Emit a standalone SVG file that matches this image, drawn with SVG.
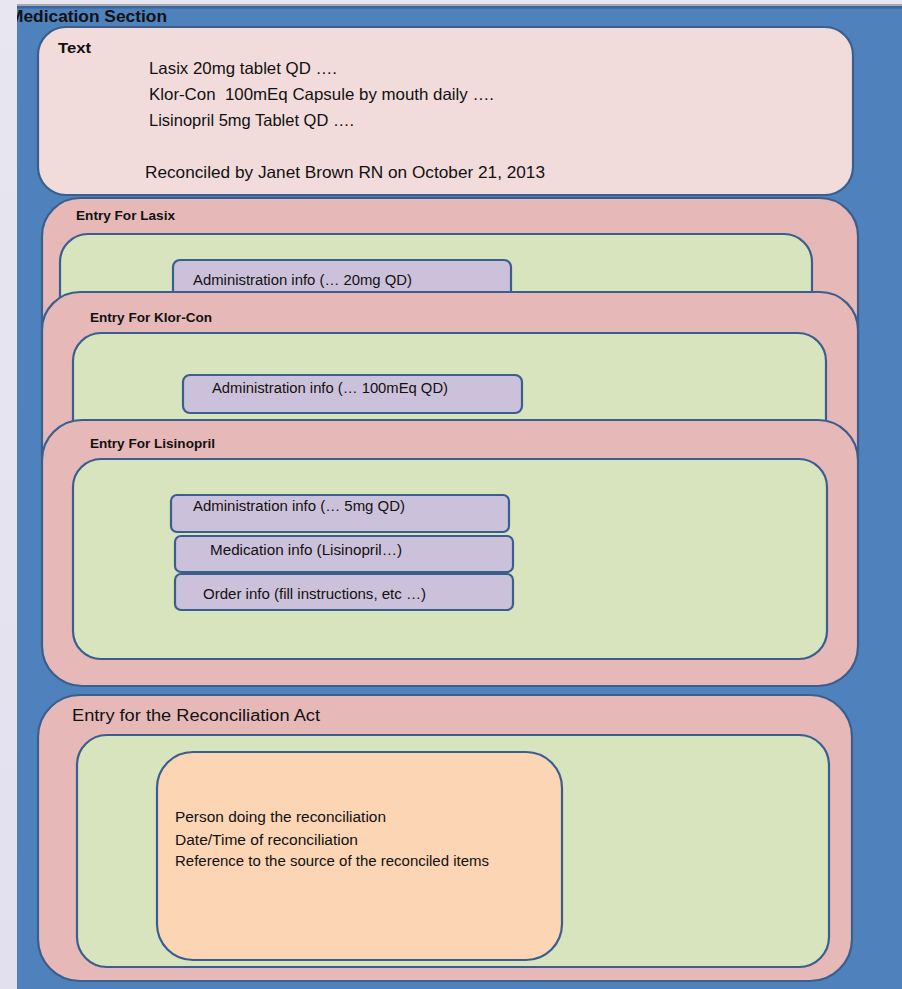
<svg xmlns="http://www.w3.org/2000/svg" width="902" height="989" viewBox="0 0 902 989">
<defs>
<style>
.box{stroke:#3a5f8e;stroke-width:2.2}
.txt{fill:#f2dcdb}
.ent{fill:#e6b9b8}
.grn{fill:#d7e4bd}
.pur{fill:#ccc1da}
.org{fill:#fcd5b5}
text{font-family:"Liberation Sans",Arial,sans-serif;fill:#111}
.b{font-weight:bold}
</style>
<clipPath id="secClip"><rect x="17" y="0" width="885" height="989"/></clipPath>
<linearGradient id="bg" x1="0" y1="0" x2="0" y2="1">
<stop offset="0" stop-color="#e8e6f0"/>
<stop offset="1" stop-color="#e2e0ef"/>
</linearGradient>
</defs>
<rect x="0" y="0" width="902" height="989" fill="url(#bg)"/>
<g id="medication-section">
<rect x="17" y="5" width="885" height="984" fill="#4f81bd"/>
<rect x="17" y="4" width="885" height="2" fill="#a6a9ae"/>
<rect x="17" y="6" width="885" height="2.5" fill="#3d669a"/>
<text class="b" x="9" y="22" font-size="16.5" textLength="158" lengthAdjust="spacingAndGlyphs" clip-path="url(#secClip)">Medication Section</text>
</g>
<g id="text-box">
<rect class="box txt" x="38" y="27" width="815" height="168" rx="28" ry="28"/>
<text class="b" x="58" y="53" font-size="15.5" textLength="33" lengthAdjust="spacingAndGlyphs">Text</text>
<text x="149" y="74" font-size="16.5" textLength="188" lengthAdjust="spacingAndGlyphs">Lasix 20mg tablet QD ….</text>
<text x="149" y="100" font-size="16.5" textLength="345" lengthAdjust="spacingAndGlyphs" xml:space="preserve">Klor-Con  100mEq Capsule by mouth daily ….</text>
<text x="149" y="126" font-size="16.5" textLength="205" lengthAdjust="spacingAndGlyphs">Lisinopril 5mg Tablet QD ….</text>
<text x="145" y="178" font-size="16.5" textLength="400" lengthAdjust="spacingAndGlyphs">Reconciled by Janet Brown RN on October 21, 2013</text>
</g>
<g id="entry-lasix">
<rect class="box ent" x="42" y="198" width="816" height="200" rx="38" ry="38"/>
<text class="b" x="76" y="220" font-size="13.5" textLength="99" lengthAdjust="spacingAndGlyphs">Entry For Lasix</text>
<rect class="box grn" x="60" y="234" width="752" height="150" rx="28" ry="28"/>
<rect class="box pur" x="173" y="260" width="338" height="60" rx="7" ry="7"/>
<text x="193" y="285" font-size="14" textLength="219" lengthAdjust="spacingAndGlyphs">Administration info (… 20mg QD)</text>
</g>
<g id="entry-klor-con">
<rect class="box ent" x="42" y="292" width="816" height="200" rx="38" ry="38"/>
<text class="b" x="90" y="322" font-size="13.5" textLength="122" lengthAdjust="spacingAndGlyphs">Entry For Klor-Con</text>
<rect class="box grn" x="73" y="333" width="753" height="150" rx="28" ry="28"/>
<rect class="box pur" x="183" y="375" width="339" height="38" rx="7" ry="7"/>
<text x="212" y="393" font-size="14" textLength="236" lengthAdjust="spacingAndGlyphs">Administration info (… 100mEq QD)</text>
</g>
<g id="entry-lisinopril">
<rect class="box ent" x="42" y="420" width="816" height="266" rx="40" ry="40"/>
<text class="b" x="90" y="448" font-size="13.5" textLength="125" lengthAdjust="spacingAndGlyphs">Entry For Lisinopril</text>
<rect class="box grn" x="73" y="459" width="754" height="200" rx="28" ry="28"/>
<rect class="box pur" x="171" y="495" width="338" height="37" rx="6" ry="6"/>
<text x="193" y="511" font-size="14" textLength="212" lengthAdjust="spacingAndGlyphs">Administration info (… 5mg QD)</text>
<rect class="box pur" x="175" y="536" width="338" height="36" rx="6" ry="6"/>
<text x="210" y="555" font-size="14" textLength="192" lengthAdjust="spacingAndGlyphs">Medication info (Lisinopril…)</text>
<rect class="box pur" x="175" y="574" width="338" height="36" rx="6" ry="6"/>
<text x="203" y="599" font-size="14" textLength="223" lengthAdjust="spacingAndGlyphs">Order info (fill instructions, etc …)</text>
</g>
<g id="entry-reconciliation">
<rect class="box ent" x="38" y="695" width="814" height="286" rx="42" ry="42"/>
<text x="72" y="721" font-size="16" textLength="248" lengthAdjust="spacingAndGlyphs" style="font-weight:500">Entry for the Reconciliation Act</text>
<rect class="box grn" x="77" y="735" width="752" height="232" rx="30" ry="30"/>
<rect class="box org" x="157" y="752" width="405" height="208" rx="36" ry="36"/>
<text x="175" y="822" font-size="14" textLength="211" lengthAdjust="spacingAndGlyphs">Person doing the reconciliation</text>
<text x="175" y="845" font-size="14" textLength="183" lengthAdjust="spacingAndGlyphs">Date/Time of reconciliation</text>
<text x="175" y="866" font-size="14" textLength="314" lengthAdjust="spacingAndGlyphs">Reference to the source of the reconciled items</text>
</g>
<g id="connectors"/>
</svg>
